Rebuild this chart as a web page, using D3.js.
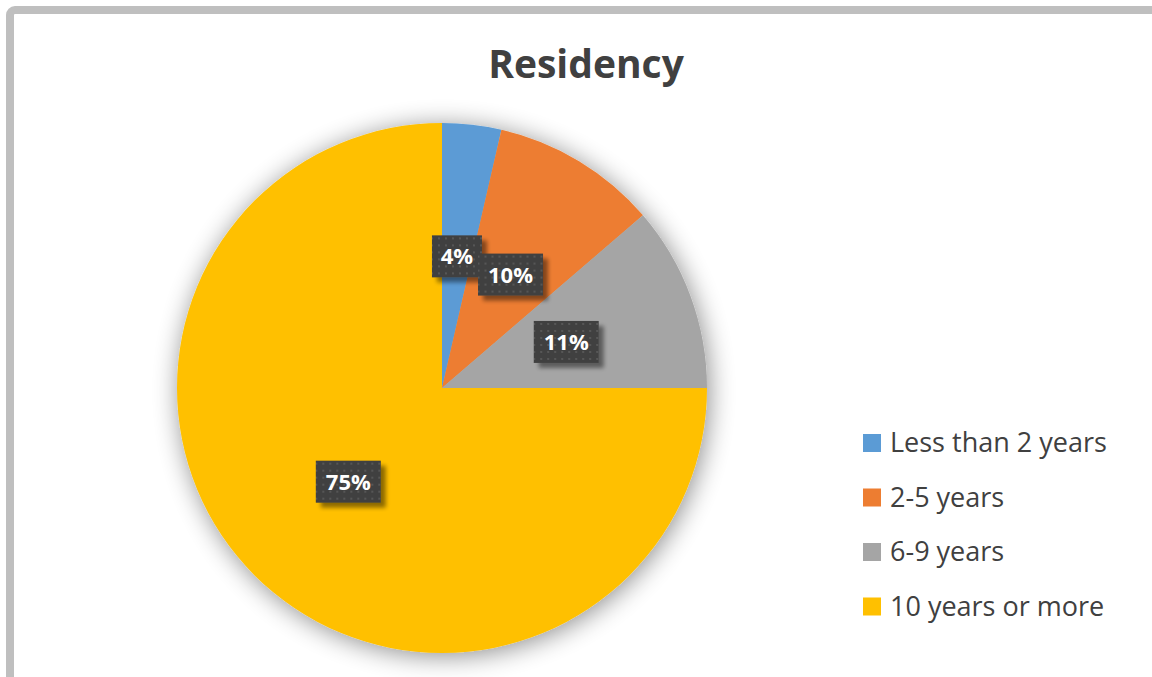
<!DOCTYPE html>
<meta charset="utf-8">
<script src="https://d3js.org/d3.v7.min.js"></script>
<style>
  body { margin: 0; background: #fff; }
  svg text { font-family: "Open Sans", sans-serif; }
</style>
<div id="chart"></div>
<script>
// data
var categories = ["Less than 2 years", "2-5 years", "6-9 years", "10 years or more"];
var shares = [3.6, 10.1, 11.3, 75.0];
var colors = ["#5b9bd5", "#ed7d31", "#a5a5a5", "#ffc000"];
var chartTitle = "Residency";

var W = 1152, H = 677;
var cx = 442, cy = 388, radius = 265;

var svg = d3.select("#chart").append("svg")
    .attr("width", W)
    .attr("height", H);

var defs = svg.append("defs");

// soft shadow round the pie
var pieShadow = defs.append("filter").attr("id", "pieShadow")
    .attr("x", "-20%").attr("y", "-20%").attr("width", "140%").attr("height", "140%");
pieShadow.append("feGaussianBlur").attr("in", "SourceAlpha").attr("stdDeviation", 13).attr("result", "b");
pieShadow.append("feOffset").attr("in", "b").attr("dx", 2).attr("dy", 3).attr("result", "o");
pieShadow.append("feComponentTransfer").attr("in", "o").attr("result", "s")
  .append("feFuncA").attr("type", "linear").attr("slope", 0.45);
var pm = pieShadow.append("feMerge");
pm.append("feMergeNode").attr("in", "s");
pm.append("feMergeNode").attr("in", "SourceGraphic");

// shadow for label boxes
var boxShadow = defs.append("filter").attr("id", "boxShadow")
    .attr("x", "-20%").attr("y", "-20%").attr("width", "150%").attr("height", "160%");
boxShadow.append("feGaussianBlur").attr("in", "SourceAlpha").attr("stdDeviation", 2).attr("result", "b");
boxShadow.append("feOffset").attr("in", "b").attr("dx", 5).attr("dy", 5).attr("result", "o");
boxShadow.append("feComponentTransfer").attr("in", "o").attr("result", "s")
  .append("feFuncA").attr("type", "linear").attr("slope", 0.45);
var bm = boxShadow.append("feMerge");
bm.append("feMergeNode").attr("in", "s");
bm.append("feMergeNode").attr("in", "SourceGraphic");

// dotted fill for label boxes
var pat = defs.append("pattern").attr("id", "dots")
    .attr("patternUnits", "userSpaceOnUse")
    .attr("width", 7).attr("height", 7);
pat.append("rect").attr("width", 7).attr("height", 7).attr("fill", "#404040");
pat.append("rect").attr("x", 2).attr("y", 2).attr("width", 2).attr("height", 2).attr("fill", "#575757");

// frame
svg.append("rect")
    .attr("x", 10).attr("y", 10)
    .attr("width", W + 20).attr("height", H + 20)
    .attr("rx", 5)
    .attr("fill", "none")
    .attr("stroke", "#bfbfbf")
    .attr("stroke-width", 8);

// title
svg.append("text")
    .attr("x", 586).attr("y", 78)
    .attr("text-anchor", "middle")
    .attr("font-size", 39)
    .attr("font-weight", "bold")
    .attr("fill", "#404040")
    .text(chartTitle);

var pie = d3.pie().sort(null).value(function(d) { return d; });
var arcs = pie(shares);
var arc = d3.arc().innerRadius(0).outerRadius(radius);
var labelArc = d3.arc().innerRadius(radius * 0.5).outerRadius(radius * 0.5);

var g = svg.append("g").attr("transform", "translate(" + cx + "," + cy + ")");

g.append("g").attr("filter", "url(#pieShadow)")
  .selectAll("path")
  .data(arcs)
  .enter().append("path")
    .attr("d", arc)
    .attr("fill", function(d, i) { return colors[i]; });

// data labels
var boxH = 42;
function boxW(d) { return Math.round(d.data) < 10 ? 50 : 65; }
var lab = g.selectAll(".lab")
  .data(arcs)
  .enter().append("g")
    .attr("class", "lab")
    .attr("transform", function(d) {
      var c = labelArc.centroid(d);
      return "translate(" + c[0] + "," + c[1] + ")";
    });

lab.append("rect")
    .attr("x", function(d) { return -boxW(d) / 2; })
    .attr("y", -boxH / 2)
    .attr("width", boxW)
    .attr("height", boxH)
    .attr("fill", "url(#dots)")
    .attr("filter", "url(#boxShadow)");

lab.append("text")
    .attr("text-anchor", "middle")
    .attr("dy", "0.36em")
    .attr("font-size", 22)
    .attr("font-weight", "bold")
    .attr("fill", "#ffffff")
    .text(function(d) { return Math.round(d.data) + "%"; });

// legend
var legend = svg.append("g").attr("transform", "translate(863,434)");
var row = legend.selectAll("g")
  .data(categories)
  .enter().append("g")
    .attr("transform", function(d, i) { return "translate(0," + (i * 54.5) + ")"; });

row.append("rect")
    .attr("width", 18).attr("height", 18)
    .attr("fill", function(d, i) { return colors[i]; });

row.append("text")
    .attr("x", 27).attr("y", 18)
    .attr("font-size", 27)
    .attr("fill", "#404040")
    .text(function(d) { return d; });
</script>
